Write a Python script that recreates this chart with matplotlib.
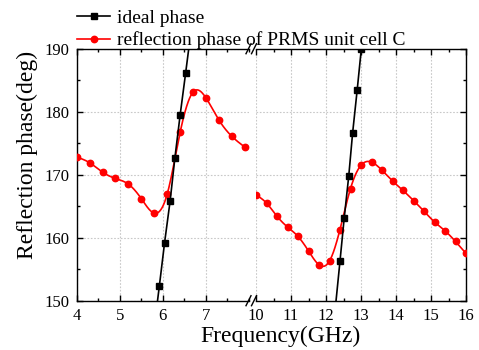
import numpy as np
import matplotlib
matplotlib.use("Agg")
import matplotlib.pyplot as plt
from matplotlib.lines import Line2D
from matplotlib.ticker import MultipleLocator, FixedLocator

plt.rcParams['font.family'] = ['Liberation Serif', 'DejaVu Serif']
plt.rcParams['mathtext.fontset'] = 'stix'

# ---------------- data ----------------
# ideal phase (left band, right band); first/last points are line ends without markers
ideal_left_f = [5.84, 5.92, 6.04, 6.17, 6.28, 6.40, 6.53, 6.62]
ideal_left_v = [148.0, 152.4, 159.2, 165.9, 172.7, 179.4, 186.2, 191.0]
ideal_right_f = [12.26, 12.40, 12.52, 12.65, 12.76, 12.89, 13.01]
ideal_right_v = [148.5, 156.3, 163.1, 169.8, 176.6, 183.4, 190.0]

# reflection phase of PRMS unit cell C
refl_left_f = [4.0, 4.3, 4.6, 4.9, 5.2, 5.5, 5.8, 6.1, 6.4, 6.7, 7.0, 7.3, 7.6, 7.9]
refl_left_v = [172.8, 171.9, 170.4, 169.4, 168.5, 166.2, 163.9, 166.9, 176.7, 183.1,
               182.2, 178.7, 176.1, 174.4]
refl_right_f = [10.0, 10.3, 10.6, 10.9, 11.2, 11.5, 11.8, 12.1, 12.4, 12.7, 13.0,
                13.3, 13.6, 13.9, 14.2, 14.5, 14.8, 15.1, 15.4, 15.7, 16.0]
refl_right_v = [166.8, 165.5, 163.4, 161.7, 160.2, 157.9, 155.7, 156.3, 161.3, 167.8,
                171.5, 172.0, 170.7, 169.0, 167.5, 165.9, 164.2, 162.5, 161.1, 159.4,
                157.5]

xticks_left = [4, 5, 6, 7]
xticks_right = [10, 11, 12, 13, 14, 15, 16]
yticks = [150, 160, 170, 180, 190]

labels = ['ideal phase', 'reflection phase of PRMS unit cell C']
xlabel = 'Frequency(GHz)'
ylabel = 'Reflection phase(deg)'


def spline_curve(x, y, num=400):
    x = np.asarray(x, float)
    y = np.asarray(y, float)
    n = len(x)
    h = np.diff(x)
    A = np.zeros((n, n))
    b = np.zeros(n)
    A[0, 0] = A[-1, -1] = 1
    for i in range(1, n - 1):
        A[i, i - 1] = h[i - 1]
        A[i, i] = 2 * (h[i - 1] + h[i])
        A[i, i + 1] = h[i]
        b[i] = 6 * ((y[i + 1] - y[i]) / h[i] - (y[i] - y[i - 1]) / h[i - 1])
    M = np.linalg.solve(A, b)
    xs = np.linspace(x[0], x[-1], num)
    idx = np.clip(np.searchsorted(x, xs) - 1, 0, n - 2)
    x0 = x[idx]
    x1 = x[idx + 1]
    hh = x1 - x0
    t0 = x1 - xs
    t1 = xs - x0
    ys = (M[idx] * t0 ** 3 / (6 * hh) + M[idx + 1] * t1 ** 3 / (6 * hh)
          + (y[idx] / hh - M[idx] * hh / 6) * t0 + (y[idx + 1] / hh - M[idx + 1] * hh / 6) * t1)
    return xs, ys


W, H = 479, 350
fig = plt.figure(figsize=(W / 100, H / 100), dpi=100)

bottom = 1 - 300.7 / H
height = 252.0 / H
axL = fig.add_axes([76.7 / W, bottom, (249.0 - 76.7) / W, height])
axR = fig.add_axes([256.0 / W, bottom, (466.0 - 256.0) / W, height])

red = '#ff0000'
lw = 1.2

for ax, f_id, v_id, f_r, v_r in [(axL, ideal_left_f, ideal_left_v, refl_left_f, refl_left_v),
                                  (axR, ideal_right_f, ideal_right_v, refl_right_f, refl_right_v)]:
    ax.grid(True, color='#c8c8c8', linestyle=(0, (1.5, 1.5)), linewidth=0.8)
    ax.set_axisbelow(True)
    xs, ys = spline_curve(f_r, v_r)
    ax.plot(xs, ys, color=red, lw=lw, zorder=3)
    ax.plot(f_r, v_r, linestyle='none', marker='o', ms=4.6, color=red, zorder=4)
    n = len(f_id)
    me = list(range(1, n - 1)) if ax is axL else list(range(1, n))
    ax.plot(f_id, v_id, color='black', lw=lw, marker='s', ms=3.8, markevery=me, zorder=5)
    ax.set_ylim(150, 190)
    ax.yaxis.set_major_locator(FixedLocator(yticks))
    ax.yaxis.set_minor_locator(MultipleLocator(5))
    ax.xaxis.set_minor_locator(MultipleLocator(0.5))
    ax.tick_params(which='both', direction='in', top=True, width=1.0, labelsize=12,
                   colors='black')
    ax.tick_params(which='major', length=4.5, pad=5)
    ax.tick_params(which='minor', length=2.5)
    for s in ax.spines.values():
        s.set_linewidth(1.0)

axL.set_xlim(4, 8)
axL.xaxis.set_major_locator(FixedLocator(xticks_left))
axL.spines['right'].set_visible(False)
axL.tick_params(which='both', right=False)

axR.set_xlim(10, 16)
axR.xaxis.set_major_locator(FixedLocator(xticks_right))
axR.spines['left'].set_visible(False)
axR.tick_params(which='both', left=False, right=True, labelleft=False)

# break marks
for yfig in (bottom, bottom + height):
    for xc in (248.5, 254.0):
        xf = xc / W
        dx = 2.5 / W
        dy = 5.0 / H
        fig.add_artist(Line2D([xf - dx, xf + dx], [yfig - dy, yfig + dy],
                              color='black', lw=1.0))

axL.set_ylabel(ylabel, fontsize=17)
axL.yaxis.set_label_coords(-0.222, 0.58)
fig.text(280 / W, 1 - 336 / H, xlabel, fontsize=17, ha='center', va='center')

handles = [Line2D([], [], color='black', lw=lw, marker='s', ms=3.8),
           Line2D([], [], color=red, lw=lw, marker='o', ms=4.6)]
fig.legend(handles, labels, loc='upper left', bbox_to_anchor=(77 / W, 1 - 9 / H),
           frameon=False, fontsize=14, handlelength=1.7, handletextpad=0.35,
           labelspacing=0.25, borderpad=0, borderaxespad=0)

fig.savefig('out.png', dpi=100)
